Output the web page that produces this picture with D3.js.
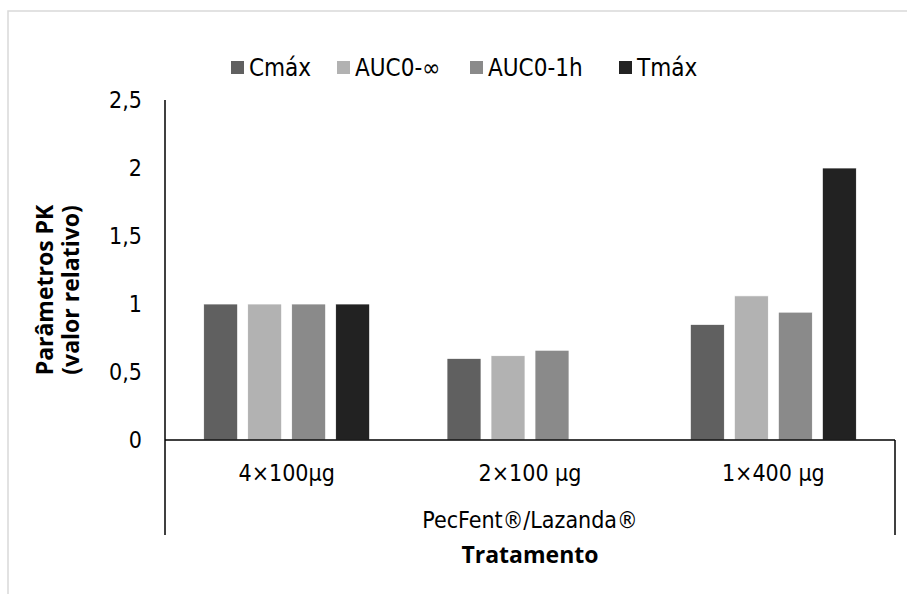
<!DOCTYPE html>
<meta charset="utf-8">
<style>
body { margin: 0; background: #fff; }
text { font-family: "DejaVu Sans Condensed", "DejaVu Sans", sans-serif; fill: #000; }
.tick-label { font-size: 23px; }
.legend-label { font-size: 24px; }
.axis-title { font-family: "Open Sans", sans-serif; font-size: 23px; font-weight: bold; }
</style>
<body>
<script src="https://cdn.jsdelivr.net/npm/d3@7"></script>
<script>

// data
var categories = ["4×100μg", "2×100 μg", "1×400 μg"];
var seriesNames = ["Cmáx", "AUC0-∞", "AUC0-1h", "Tmáx"];
var cmax   = [1.0, 0.60, 0.85];
var aucInf = [1.0, 0.62, 1.06];
var auc1h  = [1.0, 0.66, 0.94];
var tmax   = [1.0, 0, 2.0];
var yTicks = [0, 0.5, 1, 1.5, 2, 2.5];
var groupLabel = "PecFent®/Lazanda®";
var xTitle = "Tratamento";
var yTitle = ["Parâmetros PK", "(valor relativo)"];

var colors = ["#606060", "#b2b2b2", "#8a8a8a", "#222222"];
var seriesValues = [cmax, aucInf, auc1h, tmax];

var width = 907, height = 594;
var plotLeft = 165, plotRight = 895, plotTop = 100, plotBottom = 440, boxBottom = 535;
var groupWidth = 4 * 44 - 10;

var svg = d3.select("body").append("svg")
    .attr("width", width)
    .attr("height", height);

// chart area border
svg.append("rect")
    .attr("x", 8).attr("y", 11)
    .attr("width", 1000).attr("height", 1000)
    .attr("fill", "none")
    .attr("stroke", "#d9d9d9")
    .attr("stroke-width", 1.5);

var x = d3.scaleBand()
    .domain(categories)
    .range([plotLeft, plotRight]);

var inner = d3.scaleBand()
    .domain(d3.range(seriesNames.length))
    .range([0, groupWidth])
    .paddingInner(10 / 44);

var y = d3.scaleLinear()
    .domain([0, 2.5])
    .range([plotBottom, plotTop]);

// bars
var data = [];
categories.forEach(function(c, i) {
  seriesValues.forEach(function(vals, s) {
    data.push({cat: c, s: s, v: vals[i]});
  });
});

var groupOffset = (x.bandwidth() - groupWidth) / 2;

svg.append("g").selectAll("rect")
    .data(data.filter(function(d) { return d.v > 0; }))
  .enter().append("rect")
    .attr("x", function(d) { return x(d.cat) + groupOffset + inner(d.s); })
    .attr("y", function(d) { return y(d.v); })
    .attr("width", inner.bandwidth())
    .attr("height", function(d) { return y(0) - y(d.v); })
    .attr("fill", function(d) { return colors[d.s]; })
    .attr("stroke", "#fff")
    .attr("stroke-width", 0.75);

// y axis
var yAxis = d3.axisLeft(y)
    .tickValues(yTicks)
    .tickSize(0)
    .tickPadding(23)
    .tickFormat(function(d) { return String(d).replace(".", ","); });

var gy = svg.append("g")
    .attr("transform", "translate(" + plotLeft + ",0)")
    .call(yAxis);
gy.select(".domain").remove();
gy.selectAll("text")
    .attr("class", "tick-label")
    .attr("font-family", null)
    .attr("font-size", null);

// axis lines (multi-level category box)
svg.append("line")
    .attr("x1", plotLeft).attr("x2", plotLeft)
    .attr("y1", plotTop).attr("y2", boxBottom)
    .attr("stroke", "#000").attr("stroke-width", 1.5);
svg.append("line")
    .attr("x1", plotLeft).attr("x2", plotRight)
    .attr("y1", plotBottom).attr("y2", plotBottom)
    .attr("stroke", "#000").attr("stroke-width", 1.5);
svg.append("line")
    .attr("x1", plotRight).attr("x2", plotRight)
    .attr("y1", plotBottom).attr("y2", boxBottom)
    .attr("stroke", "#000").attr("stroke-width", 1.5);

// category labels
svg.append("g").selectAll("text")
    .data(categories)
  .enter().append("text")
    .attr("class", "tick-label")
    .attr("x", function(d) { return x(d) + x.bandwidth() / 2; })
    .attr("y", 481)
    .attr("text-anchor", "middle")
    .text(function(d) { return d; });

svg.append("text")
    .attr("class", "tick-label")
    .attr("x", (plotLeft + plotRight) / 2)
    .attr("y", 528)
    .attr("text-anchor", "middle")
    .text(groupLabel);

svg.append("text")
    .attr("class", "axis-title")
    .attr("x", (plotLeft + plotRight) / 2)
    .attr("y", 563)
    .attr("text-anchor", "middle")
    .text(xTitle);

// y title
var yt = svg.append("text")
    .attr("class", "axis-title")
    .attr("transform", "translate(53,290) rotate(-90)")
    .attr("text-anchor", "middle");
yt.selectAll("tspan")
    .data(yTitle)
  .enter().append("tspan")
    .attr("x", 0)
    .attr("dy", function(d, i) { return i === 0 ? 0 : 26; })
    .text(function(d) { return d; });

// legend
var legendX = [231, 337, 470, 619];
var lg = svg.append("g").selectAll("g")
    .data(seriesNames)
  .enter().append("g")
    .attr("transform", function(d, i) { return "translate(" + legendX[i] + ",61)"; });
lg.append("rect")
    .attr("width", 13).attr("height", 13)
    .attr("fill", function(d, i) { return colors[i]; });
lg.append("text")
    .attr("class", "legend-label")
    .attr("x", 18)
    .attr("y", 15)
    .text(function(d) { return d; });

</script>
</body>
